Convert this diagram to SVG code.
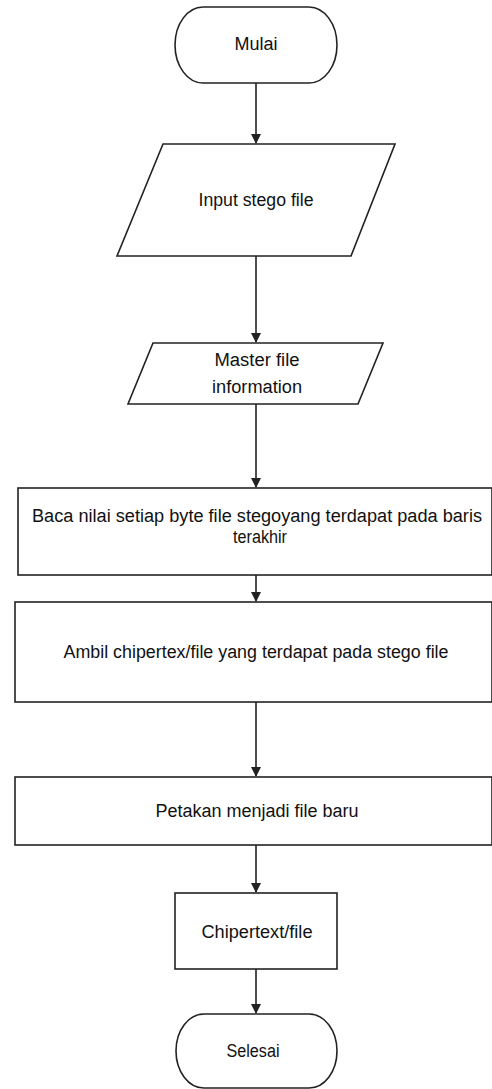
<svg xmlns="http://www.w3.org/2000/svg" width="492" height="1089" viewBox="0 0 492 1089">
  <style>
    .shape { fill: #ffffff; stroke: #222222; stroke-width: 1.6; }
    .edge { fill: none; stroke: #222222; stroke-width: 1.6; }
    .label { font-family: "Liberation Sans", Arial, sans-serif; font-size: 18px; fill: #111111; text-anchor: middle; }
  </style>
  <defs>
    <marker id="arrow" markerWidth="10" markerHeight="12" refX="9" refY="5" orient="auto" markerUnits="userSpaceOnUse">
      <path d="M0,0 L10,5 L0,10 Z" fill="#222222"/>
    </marker>
  </defs>

  <rect width="492" height="1089" fill="#ffffff"/>

  <!-- connectors -->
  <g id="connectors">
    <line class="edge" x1="256" y1="83" x2="256" y2="143" marker-end="url(#arrow)"/>
    <line class="edge" x1="256" y1="256" x2="256" y2="342" marker-end="url(#arrow)"/>
    <line class="edge" x1="256" y1="404" x2="256" y2="487" marker-end="url(#arrow)"/>
    <line class="edge" x1="256" y1="575" x2="256" y2="601" marker-end="url(#arrow)"/>
    <line class="edge" x1="256" y1="702" x2="256" y2="776" marker-end="url(#arrow)"/>
    <line class="edge" x1="256" y1="845" x2="256" y2="892" marker-end="url(#arrow)"/>
    <line class="edge" x1="256" y1="969" x2="256" y2="1013" marker-end="url(#arrow)"/>
  </g>

  <g id="mulai">
    <path class="shape" d="M203,7 L309,7 A28,38 0 0 1 309,83 L203,83 A28,38 0 0 1 203,7 Z"/>
    <text class="label" x="256" y="50" textLength="43" lengthAdjust="spacingAndGlyphs">Mulai</text>
  </g>

  <g id="input-stego">
    <polygon class="shape" points="163,144 395,144 351,256 117,256"/>
    <text class="label" x="256" y="206" textLength="115" lengthAdjust="spacingAndGlyphs">Input stego file</text>
  </g>

  <g id="master-info">
    <polygon class="shape" points="153,343 383,343 358,404 128,404"/>
    <text class="label" x="257" y="366" textLength="85" lengthAdjust="spacingAndGlyphs">Master file</text>
    <text class="label" x="257" y="393" textLength="90" lengthAdjust="spacingAndGlyphs">information</text>
  </g>

  <g id="baca-nilai">
    <rect class="shape" x="18" y="488" width="474" height="87"/>
    <text class="label" x="257" y="522" textLength="450" lengthAdjust="spacingAndGlyphs">Baca nilai setiap byte file stegoyang terdapat pada baris</text>
    <text class="label" x="260" y="543" textLength="54" lengthAdjust="spacingAndGlyphs">terakhir</text>
  </g>

  <g id="ambil">
    <rect class="shape" x="15" y="602" width="477" height="100"/>
    <text class="label" x="256" y="658" textLength="385" lengthAdjust="spacingAndGlyphs">Ambil chipertex/file yang terdapat pada stego file</text>
  </g>

  <g id="petakan">
    <rect class="shape" x="15" y="777" width="477" height="68"/>
    <text class="label" x="257" y="817" textLength="203" lengthAdjust="spacingAndGlyphs">Petakan menjadi file baru</text>
  </g>

  <g id="chipertext">
    <rect class="shape" x="175" y="893" width="162" height="76"/>
    <text class="label" x="257" y="938" textLength="111" lengthAdjust="spacingAndGlyphs">Chipertext/file</text>
  </g>

  <g id="selesai">
    <path class="shape" d="M204,1014 L309,1014 A28,37 0 0 1 309,1088 L204,1088 A28,37 0 0 1 204,1014 Z"/>
    <text class="label" x="253" y="1057" textLength="53" lengthAdjust="spacingAndGlyphs">Selesai</text>
  </g>
</svg>
